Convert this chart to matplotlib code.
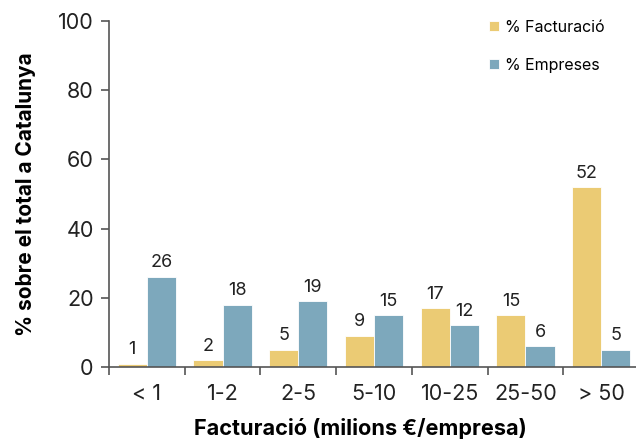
import numpy as np
import matplotlib.pyplot as plt

# Dades
categories = ['< 1', '1-2', '2-5', '5-10', '10-25', '25-50', '> 50']
facturacio = [1, 2, 5, 9, 17, 15, 52]
empreses = [26, 18, 19, 15, 12, 6, 5]

color_fact = '#EBCB74'
color_emp = '#7DA8BC'
gris = '#555555'

plt.rcParams['font.family'] = ['Inter', 'DejaVu Sans']

fig = plt.figure(figsize=(6.36, 4.41), dpi=100)
ax = fig.add_axes([109 / 636, 1 - 367 / 441, (639 - 109) / 636, (367 - 21) / 441])

x = np.arange(len(categories))
w = 0.385
b1 = ax.bar(x - w / 2, facturacio, width=w, color=color_fact, label='% Facturació',
            edgecolor='white', linewidth=0.6)
b2 = ax.bar(x + w / 2, empreses, width=w, color=color_emp, label='% Empreses',
            edgecolor='white', linewidth=0.6)

for barres in (b1, b2):
    ax.bar_label(barres, padding=4, fontsize=13, color='#222222')

ax.set_xlim(-0.5, len(categories) - 0.5)
ax.set_ylim(0, 100)
ax.set_yticks([0, 20, 40, 60, 80, 100])
ax.tick_params(axis='y', labelsize=15.5, colors=gris, labelcolor='#222222', length=6, width=1.2, pad=5)

ax.set_xticks(x)
ax.set_xticklabels(categories)
ax.tick_params(axis='x', which='major', length=0, labelsize=15.5, labelcolor='#222222', pad=12)
ax.set_xticks(np.arange(-0.5, len(categories) - 0.5, 1), minor=True)
ax.tick_params(axis='x', which='minor', length=6, width=1.2, colors=gris)

for s in ['top', 'right']:
    ax.spines[s].set_visible(False)
for s in ['left', 'bottom']:
    ax.spines[s].set_color(gris)
    ax.spines[s].set_linewidth(1.2)

ax.set_ylabel('% sobre el total a Catalunya', fontsize=15, fontweight='bold', labelpad=16)
ax.set_xlabel('Facturació (milions €/empresa)', fontsize=15.6, fontweight='bold')
ax.xaxis.set_label_coords(0.475, -0.148)

ax.legend(loc='upper left', bbox_to_anchor=(0.69, 1.045), frameon=False, fontsize=11.5,
          handlelength=0.6, handleheight=0.6, handletextpad=0.4, labelspacing=1.45)

plt.savefig('out.png', dpi=100)
plt.close()
